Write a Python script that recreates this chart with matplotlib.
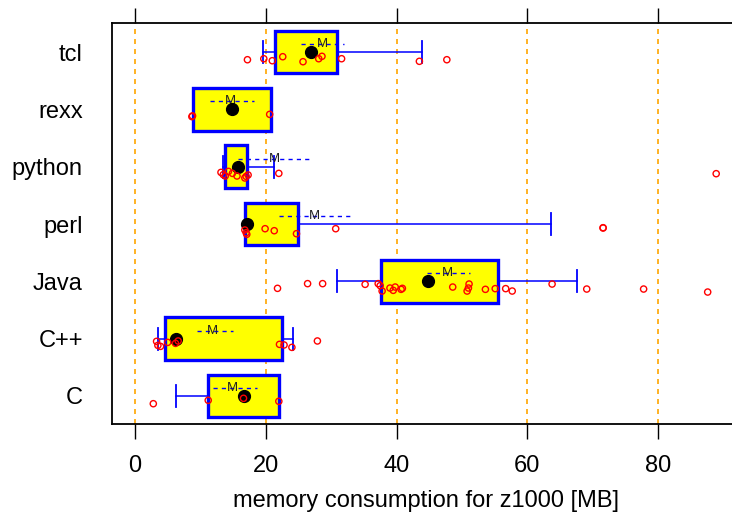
import matplotlib
matplotlib.use("Agg")
import matplotlib.pyplot as plt
import numpy as np

plt.rcParams['font.family'] = ['Liberation Sans', 'DejaVu Sans']

langs = ['C', 'C++', 'Java', 'perl', 'python', 'rexx', 'tcl']
q1 = [11.2, 4.6, 37.7, 16.9, 13.7, 8.8, 21.4]
q3 = [22.1, 22.5, 55.6, 24.9, 17.1, 20.8, 30.9]
median = [16.6, 6.3, 44.8, 17.2, 15.7, 14.8, 26.9]
mean = [14.9, 11.9, 47.8, 27.5, 21.3, 14.6, 28.6]
se_lo = [12.0, 9.5, 44.6, 22.0, 15.8, 11.5, 25.4]
se_hi = [18.6, 15.0, 51.3, 33.4, 27.3, 18.2, 31.9]
whisk_lo = [6.3, 3.5, 30.9, 16.9, 13.4, 8.8, 19.6]
whisk_hi = [22.1, 24.1, 67.6, 63.6, 21.2, 20.8, 43.9]

# individual observations and their vertical jitter (pixels below row centre)
points = {
    'C': [2.8, 11.2, 16.6, 22.0],
    'C++': [3.3, 3.5, 3.9, 5.0, 6.2, 6.6, 22.1, 22.8, 24.0, 27.9],
    'Java': [21.8, 26.4, 28.7, 35.2, 37.2, 37.5, 37.8, 39.0, 39.5, 39.8, 40.7, 40.9,
             48.6, 50.8, 51.0, 51.1, 53.6, 55.1, 56.7, 57.7, 63.8, 69.1, 77.8, 87.6],
    'perl': [16.8, 17.0, 17.1, 19.9, 21.3, 24.7, 30.7, 71.6, 71.6],
    'python': [13.15, 13.5, 13.8, 14.3, 14.9, 15.6, 16.8, 17.0, 17.3, 22.0, 88.9],
    'rexx': [8.7, 8.8, 20.6],
    'tcl': [17.2, 19.7, 21.0, 22.6, 25.7, 28.1, 28.6, 31.6, 43.5, 47.7],
}
jitter_px = {
    'C': [7.7, 4.3, 2.3, 5.3],
    'C++': [2.7, 6.7, 7.7, 3.7, 4.7, 2.3, 5.7, 6.3, 8.7, 2.3],
    'Java': [7, 2.3, 2.3, 3, 2.3, 4.3, 9.7, 6.7, 9, 5.7, 8, 7,
             5.7, 9.7, 6.7, 2.7, 8, 7.3, 7.3, 9.7, 2.7, 7.7, 7.7, 10.7],
    'perl': [6, 8.7, 10.3, 4.7, 6.7, 9.7, 4.7, 3.7, 4.0],
    'python': [5.7, 8, 9.3, 4.7, 6.7, 9.3, 11.3, 9.7, 8.3, 6.7, 7],
    'rexx': [7.3, 6.5, 5],
    'tcl': [7.7, 6.7, 8.7, 4.7, 9.7, 6.7, 4.3, 6.7, 9.3, 7.7],
}
xticks = [0, 20, 40, 60, 80]
xlabel = 'memory consumption for z1000 [MB]'

W, H = 732, 519
fig = plt.figure(figsize=(W / 100, H / 100), dpi=100)
ax_left, ax_right, ax_top, ax_bot = 112, 740, 23, 424
ax = fig.add_axes([ax_left / W, 1 - ax_bot / H, (ax_right - ax_left) / W, (ax_bot - ax_top) / H])
ppu_x = 6.5375
ax.set_xlim((ax_left - 135) / ppu_x, (ax_right - 135) / ppu_x)
row_px = 57.33
ax.set_ylim(1 - (ax_bot - 396) / row_px, 1 + (396 - ax_top) / row_px)

for x in xticks:
    ax.axvline(x, color='#FFA500', lw=1.2, ls=(0, (3, 3)), zorder=1)

ypos = np.arange(1, len(langs) + 1)
box_h = 0.74
cap_h = 0.38
for i, lang in enumerate(langs):
    y = ypos[i]
    # whiskers
    if whisk_lo[i] < q1[i]:
        ax.plot([whisk_lo[i], q1[i]], [y, y], color='#0000FF', lw=1.1, zorder=2)
        ax.plot([whisk_lo[i], whisk_lo[i]], [y - cap_h / 2, y + cap_h / 2], color='#0000FF', lw=1.3, zorder=2)
    if whisk_hi[i] > q3[i]:
        ax.plot([q3[i], whisk_hi[i]], [y, y], color='#0000FF', lw=1.1, zorder=2)
        ax.plot([whisk_hi[i], whisk_hi[i]], [y - cap_h / 2, y + cap_h / 2], color='#0000FF', lw=1.3, zorder=2)
    ax.barh(y, q3[i] - q1[i], left=q1[i], height=box_h, color='#FFFF00',
            edgecolor='#0000FF', linewidth=2.4, zorder=3)
    ym = y + 8 / row_px
    ax.plot([se_lo[i], se_hi[i]], [ym, ym], color='#0000FF', lw=1.0, ls=(0, (3, 3)), zorder=4)
    ax.text(mean[i], ym, 'M', ha='center', va='center', fontsize=9.5, color='#222222', zorder=5)
    ax.plot(median[i], y, 'o', color='black', markersize=8.5, zorder=6)
    px = points[lang]
    py = [y - j / row_px for j in jitter_px[lang]]
    ax.scatter(px, py, s=20, facecolors='none', edgecolors='#FF0000', linewidths=1.0, zorder=7)

ax.set_yticks(ypos)
ax.set_yticklabels(langs, fontsize=17)
ax.tick_params(axis='y', length=0, pad=21)
ax.set_xticks(xticks)
ax.set_xticklabels([str(v) for v in xticks], fontsize=17)
ax.tick_params(axis='x', top=True, bottom=True, direction='out', length=11, width=1.0, pad=11, labeltop=False)
ax.set_xlabel(xlabel, fontsize=17, labelpad=10)
for s in ['left', 'top', 'bottom']:
    ax.spines[s].set_linewidth(1.3)
ax.spines['right'].set_visible(False)

fig.savefig('out.png', dpi=100)
